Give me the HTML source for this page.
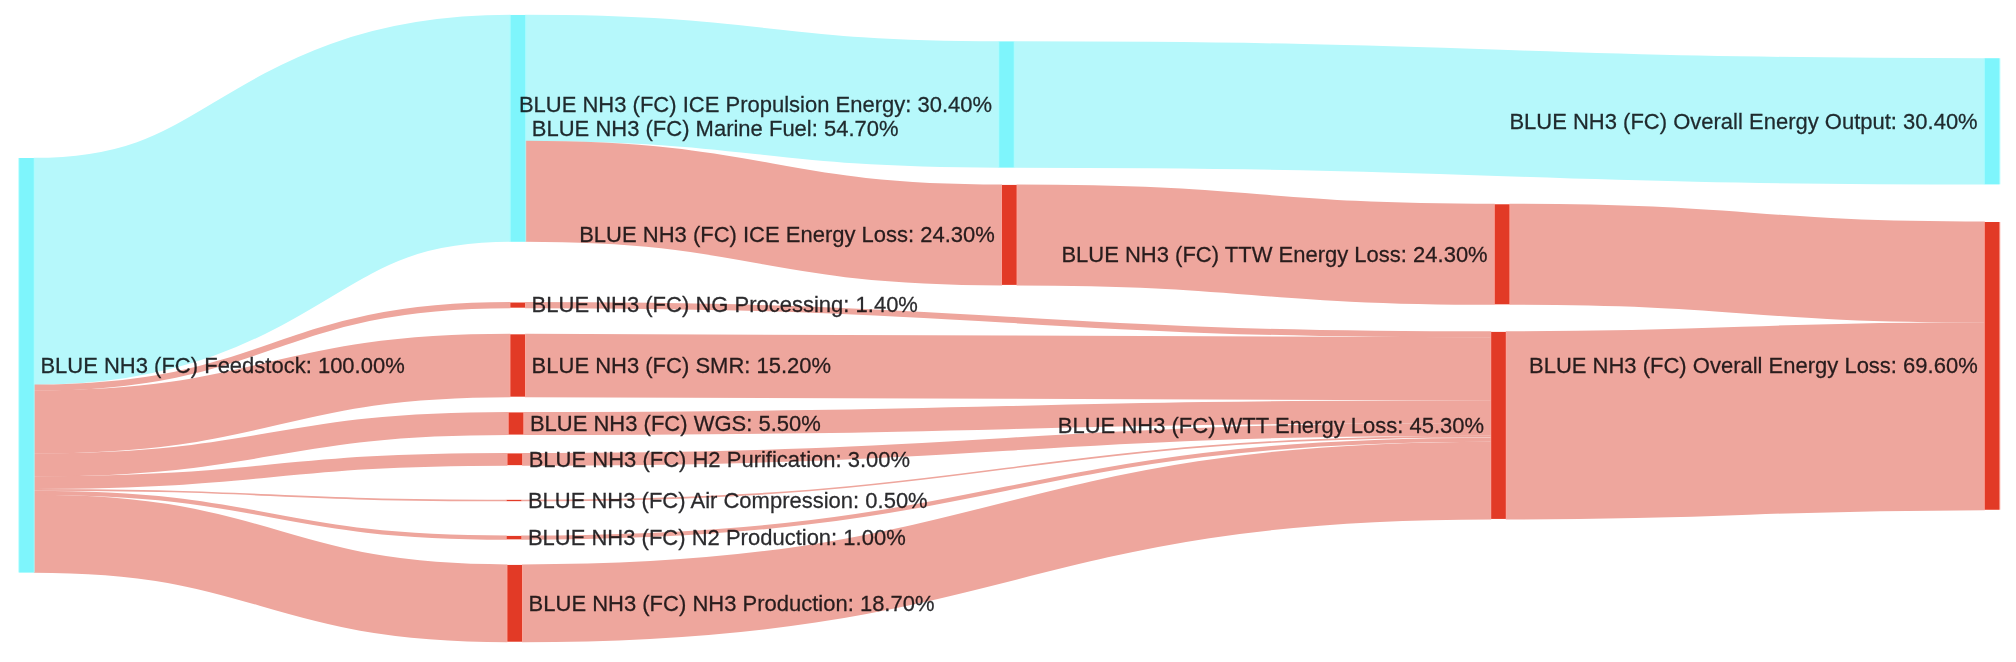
<!DOCTYPE html>
<html lang="en"><head><meta charset="utf-8"><title>BLUE NH3 (FC) Sankey</title>
<style>
html,body{margin:0;padding:0;background:#fff;}
body{width:2016px;height:662px;overflow:hidden;}
svg{display:block;filter:blur(0.45px);}
text{font-family:"Liberation Sans",Arial,sans-serif;font-size:22px;fill:#2b2b2e;stroke:#2b2b2e;stroke-width:0.25px;mix-blend-mode:multiply;}
</style></head><body>
<svg role="img" aria-label="BLUE NH3 (FC) energy flow Sankey diagram" width="2016" height="662" viewBox="0 0 2016 662">
<rect width="2016" height="662" fill="#ffffff"/>
<g class="links" fill="none">
<path d="M33.8,271.37C272.2,271.37 272.2,128.35 510.6,128.35" stroke="#b6f8fb" stroke-width="227.03"/>
<path d="M33.8,387.63C272.1,387.63 272.1,305.1 510.4,305.1" stroke="#eea69d" stroke-width="6.1"/>
<path d="M33.8,422.04C272.1,422.04 272.1,365.5 510.4,365.5" stroke="#eea69d" stroke-width="63.3"/>
<path d="M33.8,464.94C271.25,464.94 271.25,423.5 508.7,423.5" stroke="#eea69d" stroke-width="23.1"/>
<path d="M33.8,482.55C270.65,482.55 270.65,459.3 507.5,459.3" stroke="#eea69d" stroke-width="12.73"/>
<path d="M33.8,489.81C270.25,489.81 270.25,500.5 506.7,500.5" stroke="#eea69d" stroke-width="1.67"/>
<path d="M33.8,492.92C270.25,492.92 270.25,537.6 506.7,537.6" stroke="#eea69d" stroke-width="4.14"/>
<path d="M33.8,533.74C270.6,533.74 270.6,603.3 507.4,603.3" stroke="#eea69d" stroke-width="77.81"/>
<path d="M525.2,77.99C762.2,77.99 762.2,104.5 999.2,104.5" stroke="#b6f8fb" stroke-width="126.31"/>
<path d="M525.2,191.35C763.6,191.35 763.6,234.9 1002,234.9" stroke="#eea69d" stroke-width="101.02"/>
<path d="M1013.8,104.5C1499.3,104.5 1499.3,121.3 1984.8,121.3" stroke="#b6f8fb" stroke-width="126.31"/>
<path d="M1016.6,234.9C1255.7,234.9 1255.7,254.3 1494.8,254.3" stroke="#eea69d" stroke-width="101.02"/>
<path d="M525,305.1C1008.1,305.1 1008.1,334.42 1491.2,334.42" stroke="#eea69d" stroke-width="6.1"/>
<path d="M525,365.5C1008.1,365.5 1008.1,368.82 1491.2,368.82" stroke="#eea69d" stroke-width="63.3"/>
<path d="M523.3,423.5C1007.25,423.5 1007.25,411.72 1491.2,411.72" stroke="#eea69d" stroke-width="23.1"/>
<path d="M522.1,459.3C1006.65,459.3 1006.65,429.34 1491.2,429.34" stroke="#eea69d" stroke-width="12.73"/>
<path d="M521.3,500.5C1006.25,500.5 1006.25,436.59 1491.2,436.59" stroke="#eea69d" stroke-width="1.67"/>
<path d="M521.3,537.6C1006.25,537.6 1006.25,439.7 1491.2,439.7" stroke="#eea69d" stroke-width="4.14"/>
<path d="M522,603.3C1006.6,603.3 1006.6,480.53 1491.2,480.53" stroke="#eea69d" stroke-width="77.81"/>
<path d="M1509.4,254.3C1747.1,254.3 1747.1,271.97 1984.8,271.97" stroke="#eea69d" stroke-width="101.02"/>
<path d="M1505.8,425.4C1745.3,425.4 1745.3,416.21 1984.8,416.21" stroke="#eea69d" stroke-width="188.07"/>
</g>
<g class="nodes">
<rect x="18.2" y="158" width="16.6" height="414.5" fill="#a8fcff" opacity="0.75"/>
<rect x="19.2" y="158" width="14.6" height="414.5" fill="#7ef5fc"/>
<rect x="509.6" y="14.98" width="16.6" height="226.73" fill="#a8fcff" opacity="0.75"/>
<rect x="510.6" y="14.98" width="14.6" height="226.73" fill="#7ef5fc"/>
<rect x="509.4" y="302.6" width="16.6" height="5" fill="#ffa79c" opacity="0.75"/>
<rect x="510.4" y="302.6" width="14.6" height="5" fill="#e23a26"/>
<rect x="509.4" y="334.4" width="16.6" height="62.2" fill="#ffa79c" opacity="0.75"/>
<rect x="510.4" y="334.4" width="14.6" height="62.2" fill="#e23a26"/>
<rect x="507.7" y="412.5" width="16.6" height="22" fill="#ffa79c" opacity="0.75"/>
<rect x="508.7" y="412.5" width="14.6" height="22" fill="#e23a26"/>
<rect x="506.5" y="453.48" width="16.6" height="11.63" fill="#ffa79c" opacity="0.75"/>
<rect x="507.5" y="453.48" width="14.6" height="11.63" fill="#e23a26"/>
<rect x="505.7" y="499.86" width="16.6" height="1.27" fill="#ffa79c" opacity="0.75"/>
<rect x="506.7" y="499.86" width="14.6" height="1.27" fill="#e23a26"/>
<rect x="505.7" y="535.93" width="16.6" height="3.34" fill="#ffa79c" opacity="0.75"/>
<rect x="506.7" y="535.93" width="14.6" height="3.34" fill="#e23a26"/>
<rect x="506.4" y="564.94" width="16.6" height="76.71" fill="#ffa79c" opacity="0.75"/>
<rect x="507.4" y="564.94" width="14.6" height="76.71" fill="#e23a26"/>
<rect x="998.2" y="41.5" width="16.6" height="126.01" fill="#a8fcff" opacity="0.75"/>
<rect x="999.2" y="41.5" width="14.6" height="126.01" fill="#7ef5fc"/>
<rect x="1001" y="184.94" width="16.6" height="99.92" fill="#ffa79c" opacity="0.75"/>
<rect x="1002" y="184.94" width="14.6" height="99.92" fill="#e23a26"/>
<rect x="1493.8" y="204.34" width="16.6" height="99.92" fill="#ffa79c" opacity="0.75"/>
<rect x="1494.8" y="204.34" width="14.6" height="99.92" fill="#e23a26"/>
<rect x="1490.2" y="331.92" width="16.6" height="186.97" fill="#ffa79c" opacity="0.75"/>
<rect x="1491.2" y="331.92" width="14.6" height="186.97" fill="#e23a26"/>
<rect x="1983.8" y="58.3" width="16.6" height="126.01" fill="#a8fcff" opacity="0.75"/>
<rect x="1984.8" y="58.3" width="14.6" height="126.01" fill="#7ef5fc"/>
<rect x="1983.8" y="222" width="16.6" height="287.69" fill="#ffa79c" opacity="0.75"/>
<rect x="1984.8" y="222" width="14.6" height="287.69" fill="#e23a26"/>
</g>
<g class="labels">
<text x="40.4" y="372.55" transform="matrix(1 0 0 1.045 0 -16.76)">BLUE NH3 (FC) Feedstock: 100.00%</text>
<text x="531.8" y="135.65" transform="matrix(1 0 0 1.045 0 -6.1)">BLUE NH3 (FC) Marine Fuel: 54.70%</text>
<text x="531.6" y="312.4" transform="matrix(1 0 0 1.045 0 -14.06)">BLUE NH3 (FC) NG Processing: 1.40%</text>
<text x="531.6" y="372.8" transform="matrix(1 0 0 1.045 0 -16.78)">BLUE NH3 (FC) SMR: 15.20%</text>
<text x="529.9" y="430.8" transform="matrix(1 0 0 1.045 0 -19.39)">BLUE NH3 (FC) WGS: 5.50%</text>
<text x="528.7" y="466.6" transform="matrix(1 0 0 1.045 0 -21)">BLUE NH3 (FC) H2 Purification: 3.00%</text>
<text x="527.9" y="507.8" transform="matrix(1 0 0 1.045 0 -22.85)">BLUE NH3 (FC) Air Compression: 0.50%</text>
<text x="527.9" y="544.9" transform="matrix(1 0 0 1.045 0 -24.52)">BLUE NH3 (FC) N2 Production: 1.00%</text>
<text x="528.6" y="610.6" transform="matrix(1 0 0 1.045 0 -27.48)">BLUE NH3 (FC) NH3 Production: 18.70%</text>
<text x="992.1" y="111.8" text-anchor="end" transform="matrix(1 0 0 1.045 0 -5.03)">BLUE NH3 (FC) ICE Propulsion Energy: 30.40%</text>
<text x="994.9" y="242.2" text-anchor="end" transform="matrix(1 0 0 1.045 0 -10.9)">BLUE NH3 (FC) ICE Energy Loss: 24.30%</text>
<text x="1487.7" y="261.6" text-anchor="end" transform="matrix(1 0 0 1.045 0 -11.77)">BLUE NH3 (FC) TTW Energy Loss: 24.30%</text>
<text x="1484.1" y="432.7" text-anchor="end" transform="matrix(1 0 0 1.045 0 -19.47)">BLUE NH3 (FC) WTT Energy Loss: 45.30%</text>
<text x="1977.7" y="128.6" text-anchor="end" transform="matrix(1 0 0 1.045 0 -5.79)">BLUE NH3 (FC) Overall Energy Output: 30.40%</text>
<text x="1977.7" y="373.15" text-anchor="end" transform="matrix(1 0 0 1.045 0 -16.79)">BLUE NH3 (FC) Overall Energy Loss: 69.60%</text>
</g>
</svg>
</body></html>
